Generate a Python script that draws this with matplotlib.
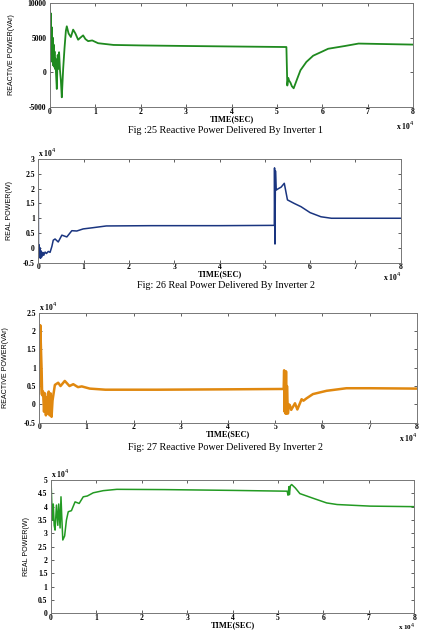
import matplotlib
matplotlib.use("Agg")
import matplotlib.pyplot as plt
from matplotlib import font_manager
import numpy as np

# ---------------- data (time in units of 1e4) ----------------
t1 = [0, 0.01, 0.02, 0.03, 0.04, 0.05, 0.06, 0.07, 0.08, 0.09,
      0.10, 0.11, 0.12, 0.13, 0.15, 0.17, 0.18, 0.20, 0.22, 0.24,
      0.26, 0.29, 0.32, 0.35, 0.37, 0.41, 0.46, 0.51, 0.56, 0.62,
      0.67, 0.73, 0.78, 0.84, 0.93, 1.06, 1.4, 2.0, 3.0, 4.0,
      5.21, 5.23, 5.25, 5.27, 5.30, 5.33, 5.37, 5.45, 5.52, 5.65,
      5.80, 6.0, 6.13, 6.5, 6.8, 7.2, 8.0]
q1 = [9500, 3000, 8500, 2500, 6500, 1500, 5000, 1000, 4000, 800,
      3000, 500, 2000, 200, -2400, 2500, 500, 2900, 300, -1200,
      -3600, 500, 3500, 6000, 6640, 5600, 5090, 6160, 5600, 4700,
      5000, 5330, 4800, 4500, 4600, 4200, 3950, 3880, 3800, 3730,
      3650, -1900, -800, -1200, -1500, -2000, -2300, -900, 300, 1500,
      2400, 3000, 3400, 3800, 4150, 4100, 4000]

t2 = [0, 0.005, 0.02, 0.03, 0.04, 0.05, 0.06, 0.08, 0.10, 0.12,
      0.15, 0.18, 0.22, 0.26, 0.30, 0.33, 0.37, 0.44, 0.52, 0.63,
      0.74, 0.85, 0.99, 1.2, 1.5, 2.5, 4.0, 5.21, 5.215, 5.225,
      5.235, 5.25, 5.30, 5.36, 5.43, 5.50, 5.65, 5.80, 6.0, 6.24,
      6.47, 7.0, 8.0]
p2 = [1.9, -0.35, 0.1, -0.3, 0.0, -0.35, -0.1, -0.3, -0.15, -0.25,
      -0.14, -0.19, -0.12, -0.15, 0.05, 0.26, 0.30, 0.20, 0.43, 0.37,
      0.58, 0.57, 0.64, 0.68, 0.74, 0.75, 0.75, 0.76, 2.7, 0.13,
      2.6, 1.95, 2.0, 2.05, 2.18, 1.62, 1.5, 1.39, 1.19, 1.05,
      1.0, 1.0, 1.0]

t3 = [0, 0.02, 0.05, 0.06, 0.08, 0.10, 0.12, 0.14, 0.16, 0.18,
      0.20, 0.22, 0.24, 0.26, 0.28, 0.33, 0.40, 0.45, 0.54, 0.64,
      0.72, 0.82, 0.90, 1.07, 1.4, 2.5, 4.0, 5.18, 5.19, 5.20,
      5.21, 5.22, 5.23, 5.24, 5.25, 5.27, 5.29, 5.31, 5.34, 5.42,
      5.47, 5.56, 5.60, 5.66, 5.80, 6.09, 6.51, 7.0, 8.0]
q3 = [0.3, 2.16, 0.9, 0.25, 0.35, -0.2, 0.3, -0.3, 0.2, -0.25,
      0.35, -0.3, 0.3, -0.34, 0.1, 0.53, 0.59, 0.50, 0.64, 0.50,
      0.55, 0.47, 0.49, 0.43, 0.40, 0.40, 0.41, 0.42, 0.93, -0.2,
      0.9, -0.25, 0.9, -0.25, 0.5, -0.25, 0.0, -0.02, -0.15, 0.03,
      -0.14, 0.14, 0.10, 0.16, 0.28, 0.37, 0.44, 0.44, 0.43]

t4 = [0, 0.03, 0.05, 0.07, 0.09, 0.12, 0.15, 0.17, 0.20, 0.22,
      0.24, 0.26, 0.30, 0.34, 0.38, 0.45, 0.53, 0.62, 0.71, 0.80,
      0.93, 1.15, 1.45, 2.5, 4.0, 5.20, 5.22, 5.24, 5.25, 5.27,
      5.30, 5.38, 5.48, 5.78, 6.07, 6.3, 7.03, 8.0]
p4 = [5.0, 3.5, 4.1, 3.3, 3.12, 4.06, 3.3, 4.1, 3.2, 4.37,
      3.5, 2.75, 2.9, 3.5, 3.81, 3.85, 4.18, 4.12, 4.37, 4.40,
      4.52, 4.60, 4.65, 4.64, 4.61, 4.58, 4.43, 4.75, 4.45, 4.78,
      4.83, 4.70, 4.49, 4.31, 4.14, 4.08, 4.02, 4.0]

xticks = [0, 1, 2, 3, 4, 5, 6, 7, 8]
yticks1 = [-5000, 0, 5000, 10000]
yticks2 = [-0.5, 0, 0.5, 1, 1.5, 2, 2.5, 3]
yticks3 = [-0.5, 0, 0.5, 1, 1.5, 2, 2.5]
yticks4 = [0, 0.5, 1, 1.5, 2, 2.5, 3, 3.5, 4, 4.5, 5]

captions = ["Fig :25 Reactive Power Delivered By Inverter 1",
            "Fig: 26 Real Power Delivered By Inverter 2",
            "Fig: 27 Reactive Power Delivered By Inverter 2"]
ylabels = ["REACTIVE POWER(VAr)", "REAL POWER(W)", "REACTIVE POWER(VAr)", "REAL POWER(W)"]

# ---------------- figure ----------------
W, H = 422, 632
fig = plt.figure(figsize=(W / 100, H / 100), dpi=100)

def rect(l, r, t, b):
    return [l / W, 1 - b / H, (r - l) / W, (b - t) / H]

def fx(px):
    return px / W

def fy(py):
    return 1 - py / H

serif = ["Liberation Serif", "DejaVu Serif"]
names = {f.name for f in font_manager.fontManager.ttflist}
if "Liberation Sans Narrow" in names:
    narrow, nsize = ["Liberation Sans Narrow"], 6.0
else:
    narrow, nsize = ["Liberation Sans", "DejaVu Sans"], 5.1

def fmt(v):
    if float(v).is_integer():
        return "%d" % v
    return ("%g" % v)

def style(ax, yt, ylim, ylabel, ylab_x, xlab_y, x10_y, l, r, x10_size=5.5):
    ax.set_xlim(0, 8)
    ax.set_ylim(*ylim)
    ax.set_xticks(xticks)
    ax.set_xticklabels([fmt(v) for v in xticks], family=serif, fontsize=5.5, fontweight="bold")
    ax.set_yticks(yt)
    ax.set_yticklabels([fmt(v) for v in yt], family=serif, fontsize=5.5, fontweight="bold")
    ax.tick_params(direction="in", top=True, right=True, length=2.5, width=0.6, color="#444444")
    ax.tick_params(axis="x", pad=0.4)
    ax.tick_params(axis="y", pad=2.5)
    for s in ax.spines.values():
        s.set_color("#777777")
        s.set_linewidth(0.7)
    fig.text(fx((l + r) / 2), fy(xlab_y), "TIME(SEC)", ha="center", va="center",
             family=serif, fontsize=6, fontweight="bold")
    pos = ax.get_position()
    fig.text(fx(ylab_x), pos.y0 + pos.height / 2,
             ylabel, rotation=90, ha="center", va="center", family=narrow, fontsize=nsize)
    fig.text(fx(r + 1), fy(x10_y), r"x 10$^4$", ha="right", va="center",
             family=serif, fontsize=x10_size, fontweight="bold")

# Panel 1
ax1 = fig.add_axes(rect(50, 413, 3, 107))
ax1.plot(t1, q1, color="#1f8a1f", lw=1.3)
style(ax1, yticks1, (-5000, 10000), ylabels[0], 12, 119, 126, 50, 413)

# Panel 2
ax2 = fig.add_axes(rect(38.3, 400.7, 159, 262.7))
ax2.plot(t2, p2, color="#1a3580", lw=1.1)
style(ax2, yticks2, (-0.5, 3), ylabels[1], 10, 274, 277, 38.3, 400.7)
ax2.text(0.0, 1.0, r"x 10$^4$", transform=ax2.transAxes, ha="left", va="bottom",
         family=serif, fontsize=5.5, fontweight="bold")

# Panel 3
ax3 = fig.add_axes(rect(39.3, 416.7, 312.7, 422.7))
ax3.plot(t3, q3, color="#e0880f", lw=1.8)
style(ax3, yticks3, (-0.5, 2.5), ylabels[2], 6, 434.5, 437.5, 39.3, 416.7)
ax3.text(0.0, 1.0, r"x 10$^4$", transform=ax3.transAxes, ha="left", va="bottom",
         family=serif, fontsize=5.5, fontweight="bold")

# Panel 4
ax4 = fig.add_axes(rect(51, 414.3, 480, 613.3))
ax4.plot(t4, p4, color="#239a23", lw=1.1)
style(ax4, yticks4, (0, 5), ylabels[3], 26, 625, 627.6, 51, 414.3, x10_size=5.1)
ax4.text(0.0, 1.0, r"x 10$^4$", transform=ax4.transAxes, ha="left", va="bottom",
         family=serif, fontsize=5.5, fontweight="bold")

# Captions
for cap, ypx in zip(captions, [130.5, 285.5, 447.5]):
    fig.text(fx(226), fy(ypx), cap, ha="center", va="center", family=serif, fontsize=7.3)

fig.savefig("out.png", dpi=100, facecolor="white")
